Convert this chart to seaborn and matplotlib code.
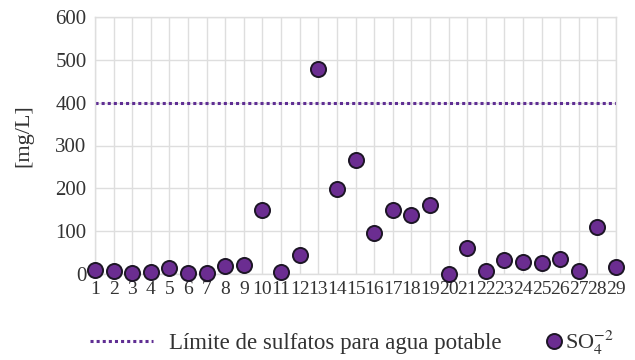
import matplotlib
matplotlib.use("Agg")
import matplotlib.pyplot as plt
from matplotlib.lines import Line2D
import seaborn as sns
import pandas as pd

# Sulfate concentration per sampling point
sample_ids = list(range(1, 30))
sulfate_mg_l = [10, 6, 3, 4, 14, 2, 2, 18, 22, 149, 4, 45, 479, 199, 266,
                95, 149, 137, 160, 1, 60, 8, 33, 27, 25, 34, 7, 110, 16]
limit_value = 400
limit_label = "Límite de sulfatos para agua potable"
series_label = r"SO$_4^{-2}$"
y_ticks = [0, 100, 200, 300, 400, 500, 600]

df = pd.DataFrame({"muestra": sample_ids, "sulfato": sulfate_mg_l})

sns.set_style("whitegrid")
plt.rcParams["font.family"] = ["Liberation Serif", "DejaVu Serif"]
plt.rcParams["mathtext.fontset"] = "stix"

fill = "#6b2d91"
edge = "#1d1626"
line_color = "#5f2e93"
grid_color = "#dedede"
text_color = "#333333"

fig = plt.figure(figsize=(6.35, 3.6), dpi=100)
ax = fig.add_axes([95 / 635, 1 - 274 / 360, 521 / 635, 257 / 360])

ax.axhline(limit_value, color=line_color, lw=2.2, ls=(0, (1, 1)), zorder=2)

sns.scatterplot(data=df, x="muestra", y="sulfato", ax=ax, s=118,
                color=fill, edgecolor=edge, linewidth=1.4, zorder=3,
                clip_on=False, legend=False)

ax.set_xlim(1, 29)
ax.set_ylim(0, 600)
ax.set_xticks(sample_ids)
ax.set_xticklabels([str(i) for i in sample_ids])
ax.set_yticks(y_ticks)
ax.tick_params(axis="both", length=0, colors=text_color)
ax.tick_params(axis="x", labelsize=14, pad=5)
ax.tick_params(axis="y", labelsize=15, pad=6)
ax.grid(True, color=grid_color, lw=1)
for sp in ax.spines.values():
    sp.set_color(grid_color)
    sp.set_linewidth(1)
ax.set_xlabel("")
ax.set_ylabel("[mg/L]", fontsize=16, color=text_color)
ax.yaxis.set_label_coords(-0.118, 0.537)

h_line = Line2D([], [], color=line_color, lw=2.2, ls=(0, (1, 1)))
h_pt = Line2D([], [], color="none", marker="o", markersize=10.8,
              markerfacecolor=fill, markeredgecolor=edge, markeredgewidth=1.4)

leg1 = fig.legend([h_line], [limit_label], loc="center left",
                  bbox_to_anchor=(90 / 635, 1 - 343 / 360), frameon=False,
                  borderpad=0, borderaxespad=0, handlelength=2.75,
                  handletextpad=0.7, fontsize=16.5, labelcolor=text_color)
leg2 = fig.legend([h_pt], [series_label], loc="center left",
                  bbox_to_anchor=(544 / 635, 1 - 343 / 360), frameon=False,
                  borderpad=0, borderaxespad=0, handlelength=0.9,
                  handletextpad=0.05, fontsize=16, labelcolor=text_color)

fig.savefig("out.png", dpi=100)
